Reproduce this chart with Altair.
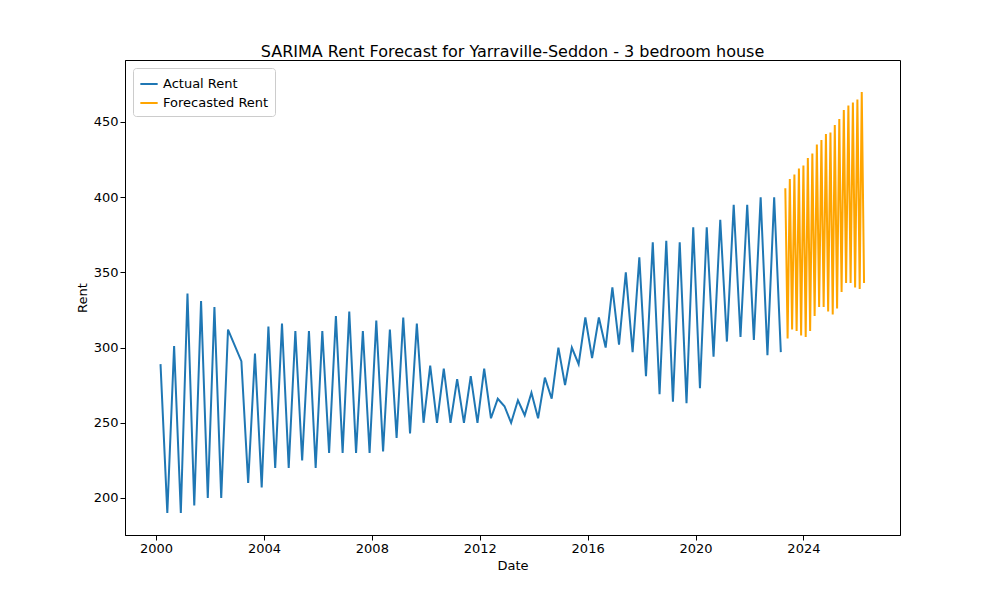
import pandas as pd
import altair as alt

actual_a = [289, 190, 301, 190, 336, 195, 331, 200, 327, 200, 312]
actual_b = [291, 210, 296, 207, 314, 220, 316, 220, 311, 225, 311, 220, 311, 230, 321,
            230, 324, 230, 311, 230, 318, 231, 312, 240, 320, 243, 316, 250, 288, 250,
            286, 250, 279, 250, 281, 250, 286, 253, 266, 261, 250, 265, 255, 270, 253,
            280, 266, 300, 275, 300, 289, 320, 293, 320, 300, 340, 302, 350, 297, 360,
            281, 370, 269, 371, 264, 370, 263, 380, 273, 380, 294, 385, 304, 395, 307,
            395, 305, 400, 295, 400, 297]
peaks = [406, 412, 415, 419, 421, 426, 429, 435, 438, 442, 443, 448, 452, 458, 461, 463, 465, 470]
troughs = [306, 312, 311, 308, 307, 311, 321, 327, 327, 324, 322, 326, 337, 343, 343, 340, 339, 343]
forecast = [v for pair in zip(peaks, troughs) for v in pair]

dates_a = pd.date_range("2000-03-01", periods=len(actual_a), freq="3MS")
dates_b = pd.date_range("2003-03-01", periods=len(actual_b), freq="3MS")
dates_f = pd.date_range("2023-05-01", periods=len(forecast), freq="MS")

df = pd.concat([
    pd.DataFrame({"Date": list(dates_a) + list(dates_b), "Rent": actual_a + actual_b, "Series": "Actual Rent"}),
    pd.DataFrame({"Date": dates_f, "Rent": forecast, "Series": "Forecasted Rent"}),
])

ticks = [pd.Timestamp(f"{y}-01-01").isoformat() for y in range(2000, 2028, 4)]

chart = alt.Chart(df).mark_line(strokeWidth=2).encode(
    x=alt.X("Date:T", title="Date",
            scale=alt.Scale(domain=["1998-11-06", "2027-08-01"]),
            axis=alt.Axis(values=ticks, format="%Y", grid=False, labelFlush=False)),
    y=alt.Y("Rent:Q", title="Rent",
            scale=alt.Scale(domain=[175.4, 491.2], nice=False, zero=False),
            axis=alt.Axis(values=[200, 250, 300, 350, 400, 450], grid=False)),
    color=alt.Color("Series:N", title=None,
                    scale=alt.Scale(domain=["Actual Rent", "Forecasted Rent"], range=["#1f77b4", "orange"]),
                    legend=alt.Legend(orient="none", legendX=8, legendY=8, symbolType="stroke",
                                      symbolStrokeWidth=2, symbolSize=300, labelFontSize=13,
                                      strokeColor="#cccccc", fillColor="white", padding=6,
                                      cornerRadius=3)),
).properties(
    width=775, height=475,
    title=alt.Title("SARIMA Rent Forecast for Yarraville-Seddon - 3 bedroom house", fontSize=16,
                    fontWeight="normal", offset=0),
    autosize=alt.AutoSizeParams(type="none"),
    padding={"left": 117, "top": 52, "right": 80, "bottom": 50},
).configure(font="DejaVu Sans").configure_axis(
    domainColor="black", tickColor="black", labelColor="black", titleColor="black",
    labelFontSize=13, titleFontSize=13, titleFontWeight="normal", tickSize=5,
).configure_view(stroke="black")

chart.save("out.html", embed_options={"renderer": "svg", "actions": False})
